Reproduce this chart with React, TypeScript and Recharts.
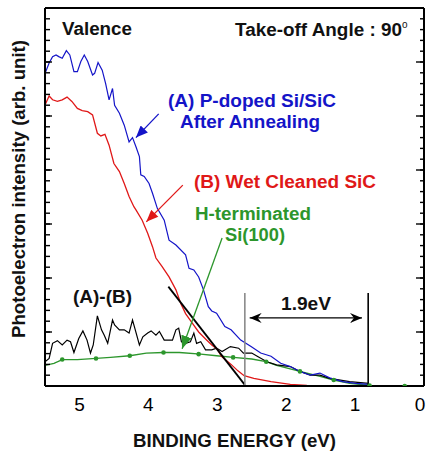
import { ComposedChart, Line, Scatter, XAxis, YAxis } from 'recharts';

const FONT = '"Liberation Sans", Arial, Helvetica, sans-serif';

// [binding energy (eV), intensity (arb. unit)]
const curveA = [
  [5.5, 5.8], [5.49, 5.82], [5.44, 5.98], [5.39, 6.1], [5.34, 6.13], [5.3, 6.1], [5.25, 6.07],
  [5.19, 6.21], [5.14, 6.13], [5.08, 5.82], [5.03, 5.82], [4.98, 6.01], [4.93, 6.13], [4.88, 6.01],
  [4.81, 5.76], [4.78, 5.79], [4.73, 5.99], [4.67, 5.85], [4.62, 5.6], [4.57, 5.3], [4.52, 5.51],
  [4.49, 5.2], [4.42, 5.05], [4.35, 4.83], [4.28, 4.52], [4.23, 4.6], [4.18, 4.43], [4.13, 4.25],
  [4.11, 3.91], [4.06, 3.88], [3.99, 3.75], [3.94, 3.57], [3.87, 3.29], [3.77, 3.07], [3.7, 2.7],
  [3.6, 2.61], [3.46, 2.43], [3.41, 2.18], [3.34, 2.15], [3.27, 2.02], [3.2, 1.78], [3.13, 1.47],
  [3.08, 1.39], [3.01, 1.35], [2.89, 1.1], [2.8, 1.04], [2.66, 0.85], [2.51, 0.73], [2.37, 0.61],
  [2.22, 0.55], [2.08, 0.42], [1.94, 0.36], [1.8, 0.27], [1.65, 0.2], [1.51, 0.24], [1.37, 0.15],
  [1.18, 0.08], [0.99, 0.05], [0.8, 0.03],
];

const curveB = [
  [5.5, 5.2], [5.49, 5.23], [5.44, 5.37], [5.39, 5.3], [5.32, 5.27], [5.25, 5.3], [5.18, 5.35],
  [5.11, 5.27], [5.03, 5.14], [4.96, 5.1], [4.88, 5.08], [4.81, 5.02], [4.74, 4.68], [4.69, 4.63],
  [4.63, 4.66], [4.57, 4.46], [4.5, 4.12], [4.42, 3.97], [4.35, 3.75], [4.28, 3.51], [4.21, 3.32],
  [4.18, 3.26], [4.09, 3.07], [4.01, 2.83], [3.94, 2.58], [3.89, 2.37], [3.8, 2.21], [3.7, 2.02],
  [3.6, 1.78], [3.53, 1.53], [3.46, 1.34], [3.36, 1.16], [3.27, 1.0], [3.17, 0.87], [3.08, 0.76],
  [3.0, 0.68], [2.94, 0.55], [2.8, 0.4], [2.7, 0.28], [2.61, 0.19], [2.47, 0.14], [2.22, 0.08],
  [1.94, 0.03], [1.7, 0.01],
];

const diffAB = [
  [5.5, 0.45], [5.44, 0.51], [5.39, 0.79], [5.32, 0.84], [5.25, 0.76], [5.18, 0.85], [5.13, 0.82],
  [5.08, 0.62], [5.01, 0.88], [4.95, 1.02], [4.89, 0.85], [4.84, 0.61], [4.8, 0.76], [4.74, 1.3],
  [4.68, 1.04], [4.64, 0.94], [4.59, 0.79], [4.52, 1.22], [4.49, 1.13], [4.42, 1.04], [4.35, 1.04],
  [4.28, 0.98], [4.23, 1.22], [4.19, 1.04], [4.13, 0.76], [4.08, 0.91], [4.01, 0.98], [3.96, 1.02],
  [3.89, 0.94], [3.84, 1.01], [3.77, 0.85], [3.65, 0.85], [3.6, 1.04], [3.56, 1.07], [3.52, 0.82],
  [3.46, 0.79], [3.39, 0.82], [3.34, 0.98], [3.3, 0.79], [3.24, 0.82], [3.17, 0.67], [3.08, 0.67],
  [3.01, 0.7], [2.93, 0.64], [2.81, 0.73], [2.69, 0.7], [2.62, 0.61], [2.5, 0.61], [2.42, 0.55],
  [2.28, 0.45], [2.14, 0.39], [1.94, 0.36], [1.8, 0.27], [1.65, 0.2], [1.51, 0.2], [1.37, 0.14],
  [1.08, 0.08], [0.8, 0.05],
];

const hSi = [
  [5.5, 0.38], [5.37, 0.42], [5.25, 0.49], [5.03, 0.49], [4.76, 0.51], [4.55, 0.53], [4.27, 0.56],
  [4.03, 0.61], [3.78, 0.62], [3.55, 0.62], [3.24, 0.59], [3.01, 0.56], [2.77, 0.53], [2.5, 0.5],
  [2.29, 0.45], [2.14, 0.38], [1.8, 0.27], [1.51, 0.18], [1.31, 0.11], [1.08, 0.05], [0.79, 0.01],
  [0.5, 0.0], [0.28, 0.0],
];

const hSiMarks = [
  [5.25, 0.49], [4.76, 0.51], [4.27, 0.56], [3.78, 0.62], [3.27, 0.59], [2.77, 0.53],
  [2.29, 0.45], [1.8, 0.27], [1.31, 0.11], [0.79, 0.01], [0.28, 0.0],
];

// onset construction
const tangent = [[3.71, 1.84], [2.6, 0.02]];
const onsetB = [[2.6, 0], [2.6, 1.72]];
const onsetH = [[0.81, 0], [0.81, 1.72]];
const gapArrow = [[2.53, 1.26], [0.9, 1.26]];

// label pointers
const arrowA = [[3.85, 5.04], [4.18, 4.6]];
const arrowB = [[3.5, 3.72], [4.03, 3.04]];
const arrowH = [[2.93, 2.74], [3.51, 0.69]];

const energyTicks = [0, 1, 2, 3, 4, 5];
const energyMinor = Array.from({ length: 28 }, (_, k) => +(k * 0.2).toFixed(1));
const intensityMajor = [0, 1, 2, 3, 4, 5, 6, 7];
const intensityMinor = Array.from({ length: 36 }, (_, k) => +(k * 0.2).toFixed(1));

const BLUE = '#1414c8';
const RED = '#e01818';
const GREEN = '#2c962c';

const pts = (arr: number[][]) => arr.map(([e, i]) => ({ e, i }));

const E_DOMAIN: [number, number] = [0, 5.5];
const I_DOMAIN: [number, number] = [0, 7];

const common = { xAxisId: 'e', yAxisId: 'i', dataKey: 'i', dot: false, isAnimationActive: false, type: 'linear' as const };

// ticks without labels: a label renderer that draws nothing
const noLabel = () => <g />;

const EnergyTick = ({ x, y, payload }: any) => (
  <text x={payload.value === 0 ? x - 4 : x} y={y} dy="0.71em" textAnchor="middle"
    fontSize={19} fill="#000" fontFamily={FONT}>
    {payload.value}
  </text>
);

export default function App() {
  const tickStroke = { stroke: '#000', strokeWidth: 1.4 };
  const frame = { stroke: '#000', strokeWidth: 2 };
  return (
    <div style={{ position: 'absolute', left: 0, top: 0, width: 427, height: 453, background: '#fff', fontFamily: FONT }}>
      <ComposedChart width={427} height={453} margin={{ top: 8, right: 3, bottom: 0, left: 0 }}>
        <XAxis
          xAxisId="e"
          dataKey="e"
          type="number"
          domain={E_DOMAIN}
          reversed
          allowDataOverflow
          ticks={energyTicks}
          interval={0}
          tickLine={false}
          tickSize={6}
          tickMargin={6}
          height={67}
          axisLine={frame}
          tick={EnergyTick}
        />
        <XAxis xAxisId="eMinor" type="number" domain={E_DOMAIN} reversed allowDataOverflow mirror height={1}
          ticks={energyMinor} interval={0} tick={noLabel} tickSize={4} axisLine={false} tickLine={tickStroke} />
        <XAxis xAxisId="eMajor" type="number" domain={E_DOMAIN} reversed allowDataOverflow mirror height={1}
          ticks={energyTicks} interval={0} tick={noLabel} tickSize={6} axisLine={false} tickLine={tickStroke} />
        <XAxis xAxisId="eTop" orientation="top" type="number" domain={E_DOMAIN} reversed allowDataOverflow mirror height={1}
          ticks={energyMinor} interval={0} tick={noLabel} tickSize={4} axisLine={frame} tickLine={tickStroke} />
        <XAxis xAxisId="eTopMajor" orientation="top" type="number" domain={E_DOMAIN} reversed allowDataOverflow mirror height={1}
          ticks={energyTicks} interval={0} tick={noLabel} tickSize={6} axisLine={false} tickLine={tickStroke} />

        <YAxis
          yAxisId="i"
          dataKey="i"
          type="number"
          domain={I_DOMAIN}
          allowDataOverflow
          width={45}
          ticks={intensityMajor}
          interval={0}
          tick={noLabel}
          tickLine={false}
          axisLine={frame}
        />
        <YAxis yAxisId="iMinor" type="number" domain={I_DOMAIN} allowDataOverflow mirror width={1}
          ticks={intensityMinor} interval={0} tick={noLabel} tickSize={4} axisLine={false} tickLine={tickStroke} />
        <YAxis yAxisId="iMajor" type="number" domain={I_DOMAIN} allowDataOverflow mirror width={1}
          ticks={intensityMajor} interval={0} tick={noLabel} tickSize={7} axisLine={false} tickLine={tickStroke} />
        <YAxis yAxisId="iRight" orientation="right" type="number" domain={I_DOMAIN} allowDataOverflow mirror width={1}
          ticks={intensityMinor} interval={0} tick={noLabel} tickSize={4} axisLine={frame} tickLine={tickStroke} />
        <YAxis yAxisId="iRightMajor" orientation="right" type="number" domain={I_DOMAIN} allowDataOverflow mirror width={1}
          ticks={intensityMajor} interval={0} tick={noLabel} tickSize={7} axisLine={false} tickLine={tickStroke} />

        <Line {...common} data={pts(hSi)} stroke={GREEN} strokeWidth={1.3} />
        <Scatter xAxisId="e" yAxisId="i" dataKey="i" data={pts(hSiMarks)} isAnimationActive={false}
          shape={(p: any) => <circle cx={p.cx} cy={p.cy} r={2.3} fill={GREEN} />} />
        <Line {...common} data={pts(diffAB)} stroke="#000" strokeWidth={1.2} />
        <Line {...common} data={pts(curveB)} stroke={RED} strokeWidth={1.3} />
        <Line {...common} data={pts(curveA)} stroke={BLUE} strokeWidth={1.2} />

        <Line {...common} data={pts(tangent)} stroke="#000" strokeWidth={1.8} />
        <Line {...common} data={pts(onsetB)} stroke="#8a8a8a" strokeWidth={1.6} />
        <Line {...common} data={pts(onsetH)} stroke="#000" strokeWidth={1.6} />
        <Line {...common} data={pts(gapArrow)} stroke="#000" strokeWidth={1.3}
          markerStart="url(#headBlackStart)" markerEnd="url(#headBlack)" />

        <Line {...common} data={pts(arrowA)} stroke={BLUE} strokeWidth={1.3} markerEnd="url(#headBlue)" />
        <Line {...common} data={pts(arrowB)} stroke={RED} strokeWidth={1.3} markerEnd="url(#headRed)" />
        <Line {...common} data={pts(arrowH)} stroke={GREEN} strokeWidth={1.3} markerEnd="url(#headGreen)" />
      </ComposedChart>

      <svg width={427} height={453} style={{ position: 'absolute', left: 0, top: 0, pointerEvents: 'none' }}
        fontFamily={FONT} fontWeight="bold" fontSize={18}>
        <defs>
          <marker id="headBlue" viewBox="0 0 12 10" refX="12" refY="5" markerWidth="13" markerHeight="10"
            markerUnits="userSpaceOnUse" orient="auto">
            <path d="M0,0 L12,5 L0,10 z" fill={BLUE} />
          </marker>
          <marker id="headRed" viewBox="0 0 12 10" refX="12" refY="5" markerWidth="13" markerHeight="10"
            markerUnits="userSpaceOnUse" orient="auto">
            <path d="M0,0 L12,5 L0,10 z" fill={RED} />
          </marker>
          <marker id="headGreen" viewBox="0 0 12 10" refX="12" refY="5" markerWidth="13" markerHeight="11"
            markerUnits="userSpaceOnUse" orient="auto">
            <path d="M0,0 L12,5 L0,10 z" fill={GREEN} />
          </marker>
          <marker id="headBlack" viewBox="0 0 12 10" refX="12" refY="5" markerWidth="12" markerHeight="10"
            markerUnits="userSpaceOnUse" orient="auto">
            <path d="M0,0 L12,5 L0,10 L4,5 z" fill="#000" />
          </marker>
          <marker id="headBlackStart" viewBox="0 0 12 10" refX="12" refY="5" markerWidth="12" markerHeight="10"
            markerUnits="userSpaceOnUse" orient="auto-start-reverse">
            <path d="M0,0 L12,5 L0,10 L4,5 z" fill="#000" />
          </marker>
        </defs>

        <text x={62} y={35} fill="#111" textLength={70} lengthAdjust="spacingAndGlyphs">Valence</text>
        <text x={235} y={36} fill="#111" textLength={167} lengthAdjust="spacingAndGlyphs">Take-off Angle : 90</text>
        <text x={402} y={28} fill="#111" fontSize={10} fontWeight="normal">o</text>

        <text x={168} y={107} fill={BLUE} textLength={168} lengthAdjust="spacingAndGlyphs">(A) P-doped Si/SiC</text>
        <text x={180} y={128} fill={BLUE} textLength={140} lengthAdjust="spacingAndGlyphs">After Annealing</text>
        <text x={194} y={188} fill={RED} textLength={182} lengthAdjust="spacingAndGlyphs">(B) Wet Cleaned SiC</text>
        <text x={195} y={220} fill={GREEN} textLength={116} lengthAdjust="spacingAndGlyphs">H-terminated</text>
        <text x={225} y={241} fill={GREEN} textLength={60} lengthAdjust="spacingAndGlyphs">Si(100)</text>
        <text x={73} y={303} fill="#111" textLength={59} lengthAdjust="spacingAndGlyphs">(A)-(B)</text>
        <text x={281} y={310} fill="#111" textLength={50} lengthAdjust="spacingAndGlyphs">1.9eV</text>

        <text x={133} y={447} fill="#111" textLength={203} lengthAdjust="spacingAndGlyphs">BINDING ENERGY (eV)</text>
        <text x={25} y={189} fill="#111" textAnchor="middle" transform="rotate(-90 25 189)"
          textLength={298} lengthAdjust="spacingAndGlyphs">Photoelectron intensity (arb. unit)</text>
      </svg>
    </div>
  );
}
